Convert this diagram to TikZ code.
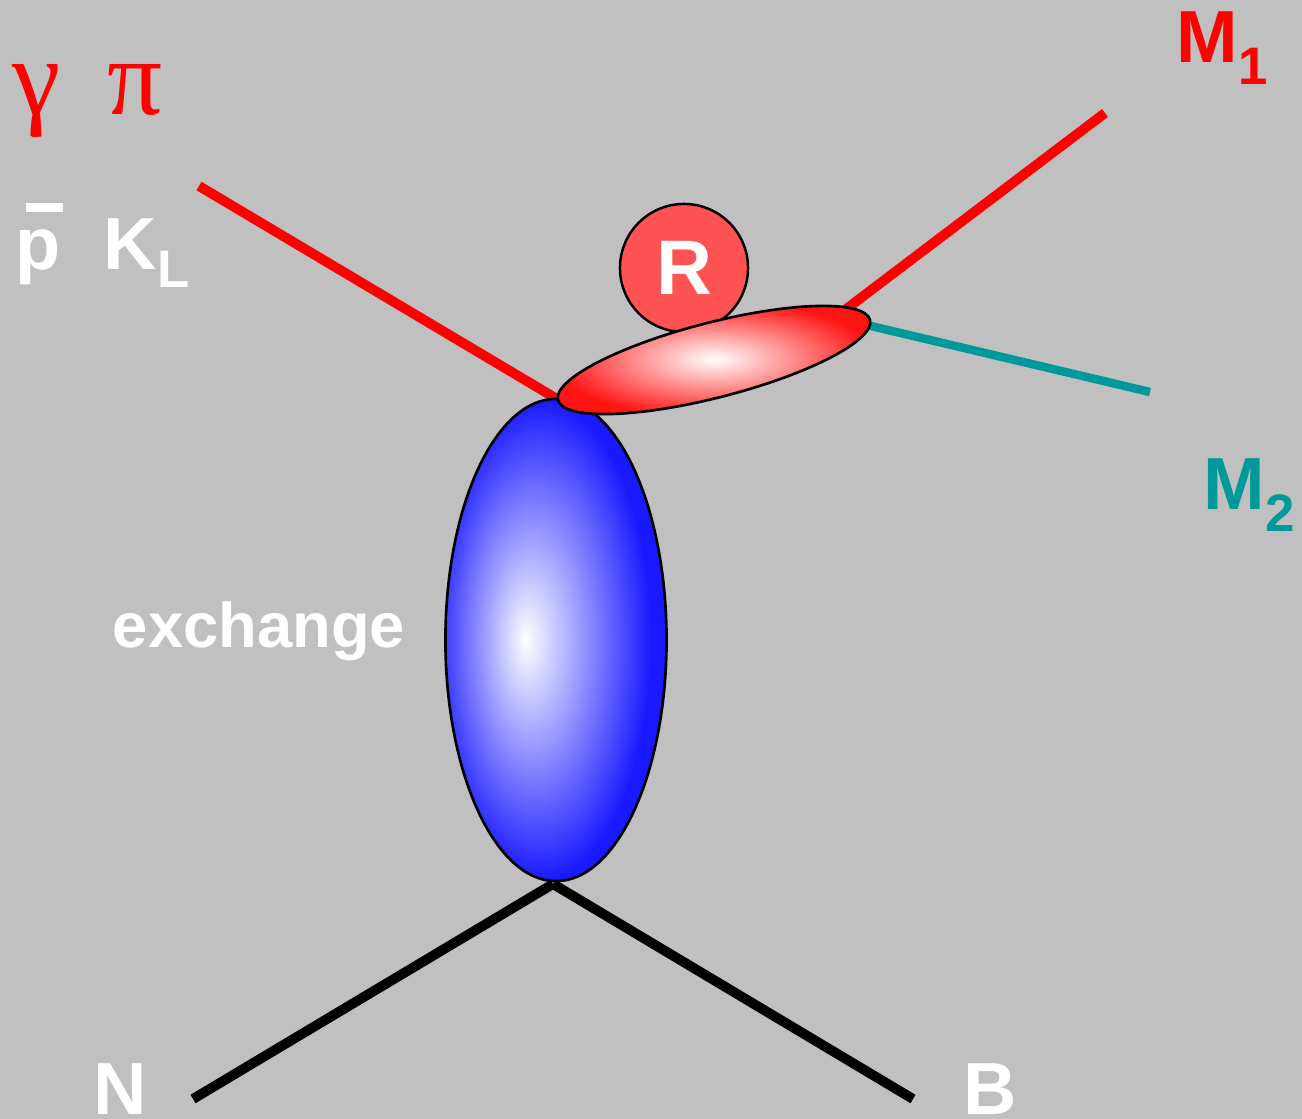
\documentclass[tikz,border=0pt]{standalone}
\usepackage{fontspec}
\setmainfont{Liberation Sans}
\newfontfamily\greekfont{Liberation Serif}
\usepackage{xcolor}
\usetikzlibrary{shapes.geometric, positioning}
\definecolor{BackGray}{RGB}{192,192,192}
\definecolor{PureRed}{RGB}{255,0,0}
\definecolor{ResRed}{RGB}{255,82,82}
\definecolor{EdgeRed}{RGB}{255,20,20}
\definecolor{TealLine}{RGB}{0,153,153}
\definecolor{ExchBlue}{RGB}{25,25,255}
\pgfdeclareradialshading{exchshade}{\pgfpoint{-7bp}{0bp}}{color(0bp)=(white); color(25bp)=(ExchBlue); color(50bp)=(ExchBlue)}
\pgfdeclareradialshading{resshade}{\pgfpoint{0bp}{0bp}}{color(0bp)=(white); color(25bp)=(EdgeRed); color(50bp)=(EdgeRed)}
\newcommand{\lowsub}[2]{\raisebox{-#1}{\fontsize{15}{15}\selectfont #2}}
\newcommand{\antip}{p\llap{\rule[16.5pt]{10.5pt}{2.5pt}\kern-0.6pt}}

\begin{document}
\begin{tikzpicture}[x=0.01cm, y=-0.01cm,
  leg/.style={line width=2.8pt, line cap=butt},
  blob/.style={ellipse, draw=black, line width=0.75pt, inner sep=0pt},
  lbl/.style={inner sep=0pt, font=\bfseries\fontsize{21}{25}\selectfont},
  greek/.style={inner sep=0pt, text=PureRed, font=\greekfont\fontsize{31}{35}\selectfont},
]
\useasboundingbox (0,0) rectangle (1302,1119);
\fill[BackGray] (0,0) rectangle (1302,1119);

% end points of the legs
\coordinate (beam) at (199,186);
\coordinate (vtx)  at (557,399);
\coordinate (bot)  at (553,884);
\coordinate (nend) at (193,1099);
\coordinate (bend) at (913,1099);
\coordinate (mfrom) at (800,344);
\coordinate (tfrom) at (820,314);
\coordinate (mone) at (1105,113);
\coordinate (mtwo) at (1150,392);

\draw[leg, PureRed] (beam) -- (vtx);
\draw[leg, black] (bot) -- (nend);
\draw[leg, black] (bot) -- (bend);
\draw[leg, PureRed] (mfrom) -- (mone);
\draw[leg, TealLine, line width=2.4pt] (tfrom) -- (mtwo);

% exchange blob
\node[blob, shading=exchshade, minimum width=2.21cm, minimum height=4.82cm]
  (exch) at (556,640) {};

% resonance
\node[circle, draw=black, line width=0.7pt, fill=ResRed, minimum size=1.28cm,
      inner sep=0pt, text=white, font=\bfseries\fontsize{22}{26}\selectfont]
  (res) at (684,268) {R};
\node[blob, shading=resshade, minimum width=3.22cm, minimum height=0.75cm,
      rotate=14.4] (decay) at (714,360) {};

% labels
\node[greek, anchor=base] (gam) at (37,115) {γ};
\node[greek, anchor=base] (pion) at (135,115) {π};
\node[lbl, text=white, anchor=base] (pbar) at (38,270) {\antip};
\node[lbl, text=white, anchor=base west] (kl) at (103,270) {K\lowsub{5pt}{L}};
\node[lbl, text=PureRed, anchor=base west] (mo) at (1176,63) {M\lowsub{6pt}{1}};
\node[lbl, text=TealLine, anchor=base west] (mt) at (1203,510) {M\lowsub{6pt}{2}};
\node[inner sep=0pt, text=white, anchor=base, font=\bfseries\fontsize{18}{21}\selectfont]
  (exlbl) at (259,648) {exchange};
\node[lbl, text=white, anchor=base] (nuc) at (120,1115) {N};
\node[lbl, text=white, anchor=base] (bar) at (990,1115) {B};
\end{tikzpicture}
\end{document}
